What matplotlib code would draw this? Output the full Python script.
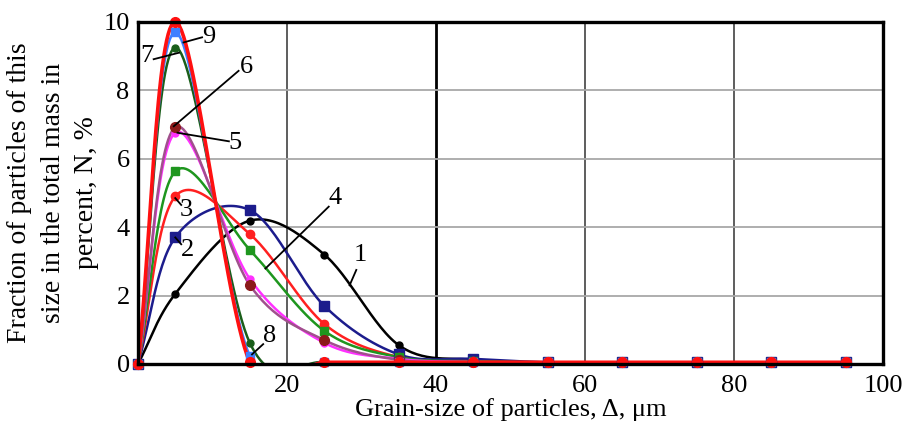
import numpy as np
import matplotlib
matplotlib.use("Agg")
import matplotlib.pyplot as plt

plt.rcParams['font.family'] = ['Liberation Serif', 'DejaVu Serif']

# grain size (bin centres), um
size = [0, 5, 15, 25, 35, 45, 55, 65, 75, 85, 95]

# fraction N, % for the nine samples
n1 = [0, 2.05, 4.19, 3.2, 0.55, 0.12, 0.05, 0.05, 0.05, 0.05, 0.05]
n2 = [0, 3.7, 4.5, 1.7, 0.28, 0.15, 0.05, 0.05, 0.05, 0.05, 0.05]
n3 = [0, 4.9, 3.8, 1.17, 0.2, 0.08, 0.05, 0.05, 0.05, 0.05, 0.05]
n4 = [0, 5.63, 3.34, 0.97, 0.2, 0.08, 0.05, 0.05, 0.05, 0.05, 0.05]
n5 = [0, 6.76, 2.49, 0.62, 0.15, 0.06, 0.05, 0.05, 0.05, 0.05, 0.05]
n6 = [0, 6.92, 2.31, 0.7, 0.12, 0.05, 0.05, 0.05, 0.05, 0.05, 0.05]
n7 = [0, 9.25, 0.62, 0.05, 0.05, 0.05, 0.05, 0.05, 0.05, 0.05, 0.05]
n8 = [0, 9.7, 0.24, 0.05, 0.05, 0.05, 0.05, 0.05, 0.05, 0.05, 0.05]
n9 = [0, 10.0, 0.05, 0.05, 0.05, 0.05, 0.05, 0.05, 0.05, 0.05, 0.05]

curve_labels = ['1', '2', '3', '4', '5', '6', '7', '8', '9']
xtick_vals = [20, 40, 60, 80, 100]
ytick_vals = [0, 2, 4, 6, 8, 10]


def smooth(x, y, n=30):
    # Excel-like smoothed line: Catmull-Rom as cubic Bezier segments
    p = np.column_stack([x, y]).astype(float)
    out = [p[:1]]
    for i in range(len(p) - 1):
        t0 = (p[i + 1] - p[i - 1]) / 2 if i > 0 else (p[i + 1] - p[i])
        t1 = (p[i + 2] - p[i]) / 2 if i + 2 < len(p) else (p[i + 1] - p[i])
        c1 = p[i] + t0 / 3
        c2 = p[i + 1] - t1 / 3
        t = np.linspace(0, 1, n)[1:, None]
        seg = ((1 - t) ** 3 * p[i] + 3 * (1 - t) ** 2 * t * c1
               + 3 * (1 - t) * t ** 2 * c2 + t ** 3 * p[i + 1])
        out.append(seg)
    s = np.vstack(out)
    return s[:, 0], s[:, 1]


fig = plt.figure(figsize=(9.02, 4.30), dpi=100)
ax = fig.add_axes([0.153, 0.1535, 0.826, 0.7955])

series = [
    (n1, 'black', 'black', 'o', 5, 1.8),
    (n2, '#1c1c8c', '#1c1c8c', 's', 7, 1.8),
    (n3, '#ff2020', '#ff2020', 'o', 6, 1.8),
    (n4, '#1e961e', '#1e961e', 's', 6, 1.8),
    (n5, '#ff30ff', '#ff30ff', 'o', 5, 1.8),
    (n6, '#a0508c', '#8b1a1a', 'o', 7, 1.8),
    (n7, '#1a5e1a', '#1a5e1a', 'o', 5, 1.8),
    (n8, '#3f7fff', '#3f7fff', 's', 6, 1.8),
    (n9, '#ff1010', '#ff1010', 'o', 7, 2.6),
]

for vals, lc, mc, mk, ms, lw in series:
    sx, sy = smooth(size, vals)
    ax.plot(sx, sy, color=lc, lw=lw, zorder=3)
    ax.plot(size, vals, ls='none', marker=mk, ms=ms, color=mc, zorder=4,
            clip_on=False)

# curve numbers with leader lines: (label pos), (line start), (line end)
annot = [
    ((29.9, 3.18), (29.3, 2.75), (28.4, 2.3)),
    ((6.7, 3.32), (5.8, 3.5), (5.0, 3.7)),
    ((6.5, 4.5), (5.8, 4.65), (5.0, 4.85)),
    ((26.5, 4.85), (25.6, 4.6), (17.1, 2.79)),
    ((13.0, 6.46), (12.2, 6.51), (5.3, 6.76)),
    ((14.5, 8.67), (13.5, 8.57), (4.8, 6.95)),
    ((1.2, 9.0), (2.1, 8.91), (5.5, 9.1)),
    ((17.7, 0.82), (16.8, 0.58), (15.3, 0.28)),
    ((9.5, 9.55), (8.6, 9.55), (6.1, 9.4)),
]
for lab, (tp, a, b) in zip(curve_labels, annot):
    ax.plot([a[0], b[0]], [a[1], b[1]], color='black', lw=1.3, zorder=5)
    ax.text(tp[0], tp[1], lab, fontsize=19, ha='center', va='center', zorder=6)

ax.set_xlim(0, 100)
ax.set_ylim(0, 10)
ax.set_xticks(xtick_vals)
ax.set_yticks(ytick_vals)
ax.tick_params(length=0, labelsize=19)
ax.tick_params(axis='x', pad=8)
ax.tick_params(axis='y', pad=6)

ax.grid(True, axis='y', color='#a8a8a8', lw=1.3)
ax.grid(True, axis='x', color='#505050', lw=1.3)
for g, v in zip(ax.get_xgridlines(), xtick_vals):
    if v == 40:
        g.set_color('black')
        g.set_linewidth(2.0)
ax.set_axisbelow(True)

for sp in ax.spines.values():
    sp.set_linewidth(2.4)
    sp.set_zorder(7)

ax.set_xlabel('Grain-size of particles, Δ, μm', fontsize=19, labelpad=1)
ax.set_ylabel('Fraction of particles of this\nsize in the total mass in\npercent, N, %',
              fontsize=20, labelpad=3, linespacing=1.45)

fig.savefig('out.png', dpi=100)
